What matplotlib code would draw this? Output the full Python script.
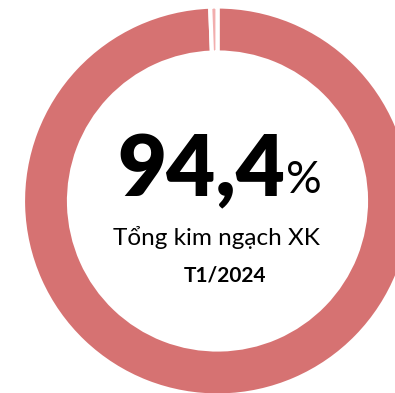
import matplotlib

matplotlib.use("Agg")
import matplotlib.pyplot as plt

# export share, with the small remainder slice at the top
labels = ["Tổng kim ngạch XK", "Khác"]
shares = [99.4, 0.6]
colors = ["#D67272", "#F2AEAE"]
headline = "94,4"
caption = "Tổng kim ngạch XK"
period = "T1/2024"

W, H = 395, 393
fig = plt.figure(figsize=(W / 100, H / 100), dpi=100)
ax = fig.add_axes([0, 0, 1, 1])

cx, cy, r_out, ring = 217.5, 192, 194.5, 46
ax.pie(shares, colors=colors, startangle=90, counterclock=False,
       center=(cx, cy), radius=r_out,
       wedgeprops=dict(width=ring, edgecolor="white", linewidth=3))
ax.set_xlim(0, W)
ax.set_ylim(0, H)
ax.set_aspect("equal")
ax.axis("off")

fam = ["Lato", "DejaVu Sans"]
ax.text(285, H - 196, headline, ha="right", va="baseline", fontsize=61,
        weight="heavy", family=fam, color="black")
ax.text(286, H - 193, "%", ha="left", va="baseline", fontsize=32,
        family=fam, color="black")
ax.text(216, H - 245, caption, ha="center", va="baseline", fontsize=17.5,
        family=fam, color="black")
ax.text(224.5, H - 282, period, ha="center", va="baseline", fontsize=15,
        weight="bold", family=fam, color="black")

fig.savefig("out.png", dpi=100)
